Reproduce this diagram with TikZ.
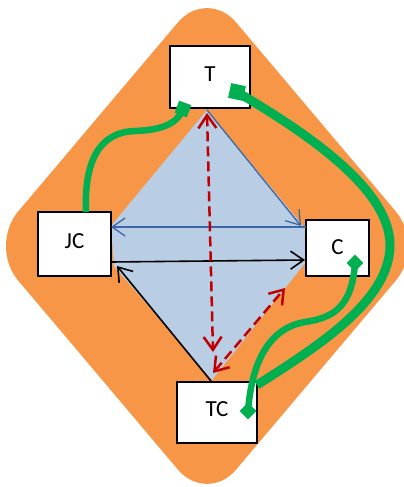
\documentclass[tikz,border=0pt]{standalone}
\usepackage{fontspec}
\setmainfont{Carlito}
\usetikzlibrary{arrows.meta}
\definecolor{orng}{HTML}{F79646}
\definecolor{bluefill}{HTML}{B9CDE5}
\definecolor{blueline}{HTML}{3C67A5}
\definecolor{grn}{HTML}{00B050}
\definecolor{redd}{HTML}{C00000}
\begin{document}
\begin{tikzpicture}[x=1pt,y=-1pt,
  boxnode/.style={draw=black, line width=1.8pt, fill=white, inner sep=0pt, font=\fontsize{23}{27}\selectfont},
  barb/.style={-{Straight Barb[length=13pt,width=18pt]}},
  bluearr/.style={draw=blueline, line width=1.3pt, barb},
  blackarr/.style={draw=black, line width=1.6pt, barb},
  redarr/.style={draw=redd, line width=2.5pt, dash pattern=on 10pt off 5pt,
     {Straight Barb[length=13pt,width=18pt]}-{Straight Barb[length=13pt,width=18pt]}},
  greenline/.style={draw=grn, line width=6.5pt},
  greenthick/.style={draw=grn, line width=9pt},
  marksq/.style={fill=grn, inner sep=0pt, minimum size=#1},
]
\useasboundingbox (0,0) rectangle (404,487);
\clip (0,0) rectangle (404,487);
% orange rounded diamond
\fill[orng, rounded corners=45pt] (316,117) -- (425,246) -- (207,504) -- (-11,246) -- (207,-12) -- cycle;
% blue region
\fill[bluefill] (207,110) -- (303,226) -- (306,226) -- (306,262) -- (212,380) -- (114,266) -- (111,226) -- cycle;
% boxes
\node[boxnode, minimum width=80pt, minimum height=62pt] (T) at (210,77) {\raisebox{5pt}{T}};
\node[boxnode, minimum width=73pt, minimum height=64pt] (JC) at (74.5,244) {\raisebox{6pt}{JC}};
\node[boxnode, minimum width=63pt, minimum height=56pt] (C) at (337.5,248) {\raisebox{2pt}{C}};
\node[boxnode, minimum width=80pt, minimum height=61pt] (TC) at (217,412.5) {\raisebox{6pt}{TC}};
% connector end points
\coordinate (tb) at (207,110);
\coordinate (cul) at (301,226);
\coordinate (cl) at (306,227);
\coordinate (jcr) at (111,227);
\coordinate (jcl) at (111,262);
\coordinate (cll) at (305,260);
\coordinate (tct) at (211,381);
\coordinate (jcb) at (117,266);
\coordinate (rtop) at (207,113);
\coordinate (rbot) at (213,352);
\coordinate (rdl) at (213,373);
\coordinate (rdr) at (285,288);
% arrows
\draw[bluearr] (tb) -- (cul);
\draw[bluearr] (cl) -- (jcr);
\draw[blackarr] (jcl) -- (cll);
\draw[blackarr] (tct) -- (jcb);
\draw[redarr] (rtop) -- (rbot);
\draw[redarr] (rdl) -- (rdr);
% green markers
\node[marksq=13pt, rotate=-20] (m1) at (183,109) {};
\node[marksq=15pt, rotate=-12] (m2) at (237,92) {};
\node[marksq=12pt, rotate=45] (m3) at (355,263) {};
\node[marksq=12pt, rotate=45] (m4) at (248,411) {};
\coordinate (jct) at (86,212);
\coordinate (tcr) at (257,385);
% green connectors
\draw[greenline] (jct) .. controls (84,160) and (100,132) .. (135,131) .. controls (165,130) and (178,122) .. (m1.center);
\draw[greenthick] (m2.center) .. controls (310,135) and (390,190) .. (390,245) .. controls (390,300) and (320,345) .. (tcr);
\draw[greenline] (m3.center) .. controls (352,310) and (330,318) .. (305,322) .. controls (270,328) and (252,360) .. (m4.center);
\end{tikzpicture}
\end{document}
